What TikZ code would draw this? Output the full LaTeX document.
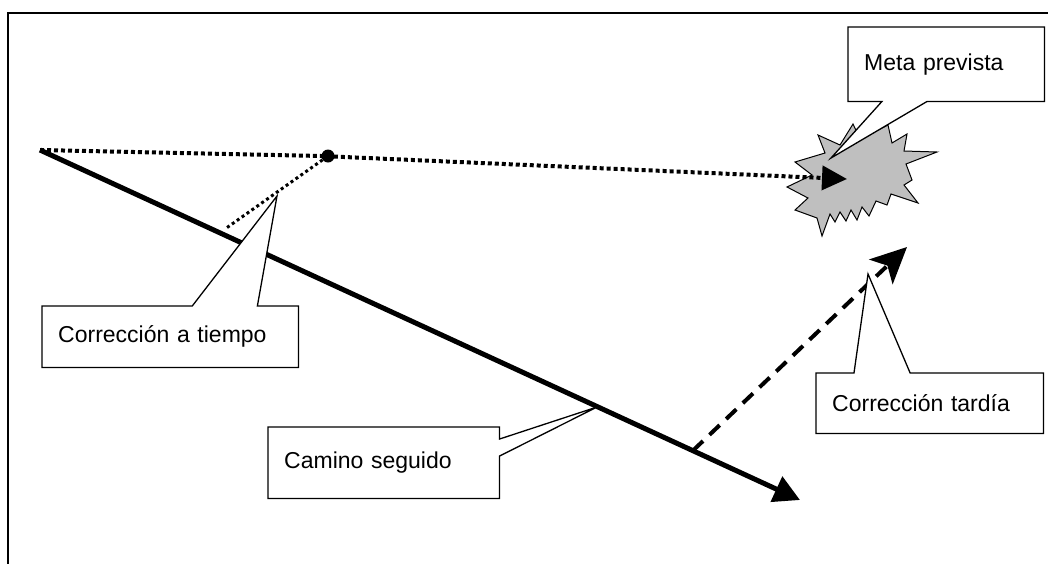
\documentclass[tikz,border=0pt]{standalone}
\usepackage{fontspec}
\setmainfont{Liberation Sans}
\usetikzlibrary{arrows.meta,calc}
\pgfdeclarelayer{under}
\pgfsetlayers{under,main}

\tikzset{
    labelbox/.style={anchor=north west, inner xsep=16pt, inner ysep=0pt, align=left,
        font=\fontsize{23}{27}\selectfont},
    calloutline/.style={draw=black, fill=white, line width=1.3pt},
    frameline/.style={line width=2.5pt, line cap=rect},
    followed/.style={line width=5pt, -{Triangle[length=26pt,width=27pt]}},
    planned/.style={line width=4pt, dash pattern=on 4pt off 3pt, -{Triangle[length=25pt,width=24pt]}},
    earlyfix/.style={line width=3pt, dash pattern=on 3pt off 3pt},
    latefix/.style={line width=4pt, dash pattern=on 14pt off 9pt, -{Stealth[length=36pt,width=34pt,inset=9pt]}},
    burst/.style={draw=black, fill=black!25, line width=1pt, line join=miter}
}

\begin{document}
\begin{tikzpicture}[x=1pt, y=-1pt]
    \useasboundingbox (0,0) rectangle (1048,563);

    \coordinate (start) at (40,150);
    \coordinate (finish) at (800,500);
    \coordinate (goal) at (847,179);
    \coordinate (turn) at (225,229);
    \coordinate (late) at ($(start)!0.859!(finish)$);
    \coordinate (latetip) at (907,247);
    \node[circle, fill=black, inner sep=0pt, minimum size=13pt] (dot) at (328,156) {};

    \node[labelbox, text width=164pt, minimum width=196pt, minimum height=74pt] (meta) at (848,27) {Meta prevista};
    \node[labelbox, text width=224pt, minimum width=256pt, minimum height=61pt] (tiempo) at (42,306) {Corrección a tiempo};
    \node[labelbox, text width=199pt, minimum width=231pt, minimum height=71pt] (camino) at (268,427) {Camino seguido};
    \node[labelbox, text width=195pt, minimum width=227pt, minimum height=60pt] (tardia) at (816,373) {Corrección tardía};

    \coordinate (metatip) at (831,158);
    \coordinate (tiempotip) at (277,196);
    \coordinate (caminotip) at (597,407);
    \coordinate (tardiatip) at (868,274);

    \begin{pgfonlayer}{under}
        \draw[frameline] (1060,13) -- (8,13) -- (8,580);

        % meta prevista
        \filldraw[burst] (818,135) -- (840,145) -- (853,124) -- (860,139) -- (888,125) -- (892,143)
            -- (907,134) -- (904,151) -- (937,152) -- (906,164) -- (912,180) -- (904,185)
            -- (918,203) -- (891,194) -- (887,205) -- (876,201) -- (869,216) -- (862,207)
            -- (857,220) -- (851,210) -- (846,221) -- (840,212) -- (835,222) -- (830,214)
            -- (822,236) -- (817,218) -- (795,210) -- (808,198) -- (787,187) -- (812,175)
            -- (795,162) -- (825,153) -- cycle;

        \draw[followed] (start) -- (finish);
        \draw[planned] (start) -- (dot.west) -- (goal);
        \draw[earlyfix] (dot) -- (turn);
        \draw[latefix] (late) -- (latetip);

        % callouts
        \filldraw[calloutline] (meta.north west) -- (meta.north east) -- (meta.south east)
            -- ($(meta.south west)!0.403!(meta.south east)$) -- (metatip)
            -- ($(meta.south west)!0.173!(meta.south east)$) -- (meta.south west) -- cycle;
        \filldraw[calloutline] (tiempo.south west) -- (tiempo.north west)
            -- ($(tiempo.north west)!0.586!(tiempo.north east)$) -- (tiempotip)
            -- ($(tiempo.north west)!0.84!(tiempo.north east)$) -- (tiempo.north east)
            -- (tiempo.south east) -- cycle;
        \filldraw[calloutline] (camino.north west) -- (camino.north east)
            -- ($(camino.north east)!0.169!(camino.south east)$) -- (caminotip)
            -- ($(camino.north east)!0.408!(camino.south east)$) -- (camino.south east)
            -- (camino.south west) -- cycle;
        \filldraw[calloutline] (tardia.south west) -- (tardia.north west)
            -- ($(tardia.north west)!0.167!(tardia.north east)$) -- (tardiatip)
            -- ($(tardia.north west)!0.414!(tardia.north east)$) -- (tardia.north east)
            -- (tardia.south east) -- cycle;
    \end{pgfonlayer}
\end{tikzpicture}
\end{document}
